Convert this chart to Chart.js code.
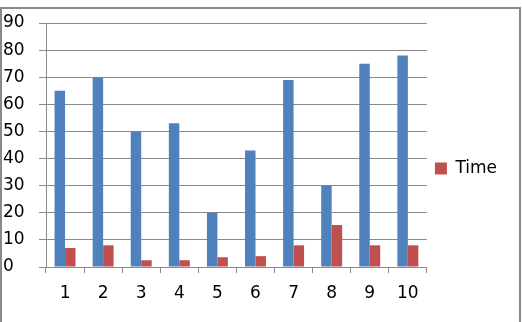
<!DOCTYPE html>
<html>
<head>
<meta charset="utf-8">
<script src="https://cdn.jsdelivr.net/npm/chart.js@4"></script>
<style>
  html, body { margin: 0; padding: 0; background: #fff; }
  #wrap { position: absolute; left: 0; top: 0; width: 522px; height: 322px; overflow: hidden; }
  #frame { position: absolute; left: 0; top: 7px; width: 521px; height: 330px;
           border-top: 2px solid #8a8a8a; border-left: 2px solid #8a8a8a; border-right: 2px solid #8a8a8a; box-sizing: border-box; }
  #c { position: absolute; left: 0; top: 0; }
</style>
</head>
<body>
<div id="wrap">
  <div id="frame"></div>
  <canvas id="c" width="522" height="322"></canvas>
</div>
<script>
const categories = ["1","2","3","4","5","6","7","8","9","10"];
const seriesBlue = [65, 70, 50, 53, 20, 43, 69, 30, 75, 78];
const seriesTime = [7, 8, 2.5, 2.5, 3.6, 4, 8, 15.5, 8, 8];
const yTicks = [0, 10, 20, 30, 40, 50, 60, 70, 80, 90];

const FONT = { family: "'DejaVu Sans', Verdana, sans-serif", size: 17 };

const legendNudge = {
  id: 'legendNudge',
  afterLayout(chart) { if (chart.legend) chart.legend.bottom -= 8; }
};

new Chart(document.getElementById('c'), {
  type: 'bar',
  data: {
    labels: categories,
    datasets: [
      { label: 'Series', data: seriesBlue, backgroundColor: '#4F81BD',
        categoryPercentage: 0.55, barPercentage: 1.0 },
      { label: 'Time', data: seriesTime, backgroundColor: '#C0504D',
        categoryPercentage: 0.55, barPercentage: 1.0 }
    ]
  },
  plugins: [legendNudge],
  options: {
    responsive: false,
    animation: false,
    devicePixelRatio: 1,
    layout: { padding: { left: 3, top: 23, right: 15, bottom: 0 } },
    plugins: {
      tooltip: { enabled: false },
      legend: {
        position: 'right',
        align: 'center',
        labels: {
          filter: (item) => item.text === 'Time',
          boxWidth: 12, boxHeight: 12,
          color: '#000',
          font: FONT,
          padding: 8
        }
      }
    },
    scales: {
      x: {
        grid: { display: true, drawOnChartArea: false, drawTicks: true, tickLength: 6, color: '#8a8a8a', offset: true },
        border: { display: true, color: '#8a8a8a', width: 1 },
        ticks: { color: '#000', font: FONT, padding: 10, maxRotation: 0 },
        afterFit: (s) => { s.height = 55; }
      },
      y: {
        min: 0, max: 90,
        afterBuildTicks: (s) => { s.ticks = yTicks.map(v => ({ value: v })); },
        grid: { color: '#8a8a8a', tickLength: 7, lineWidth: 1 },
        border: { display: true, color: '#8a8a8a', width: 1 },
        ticks: { color: '#000', font: FONT, crossAlign: 'far', padding: 4 },
        afterFit: (s) => { s.width = 43; }
      }
    }
  }
});
</script>
</body>
</html>
